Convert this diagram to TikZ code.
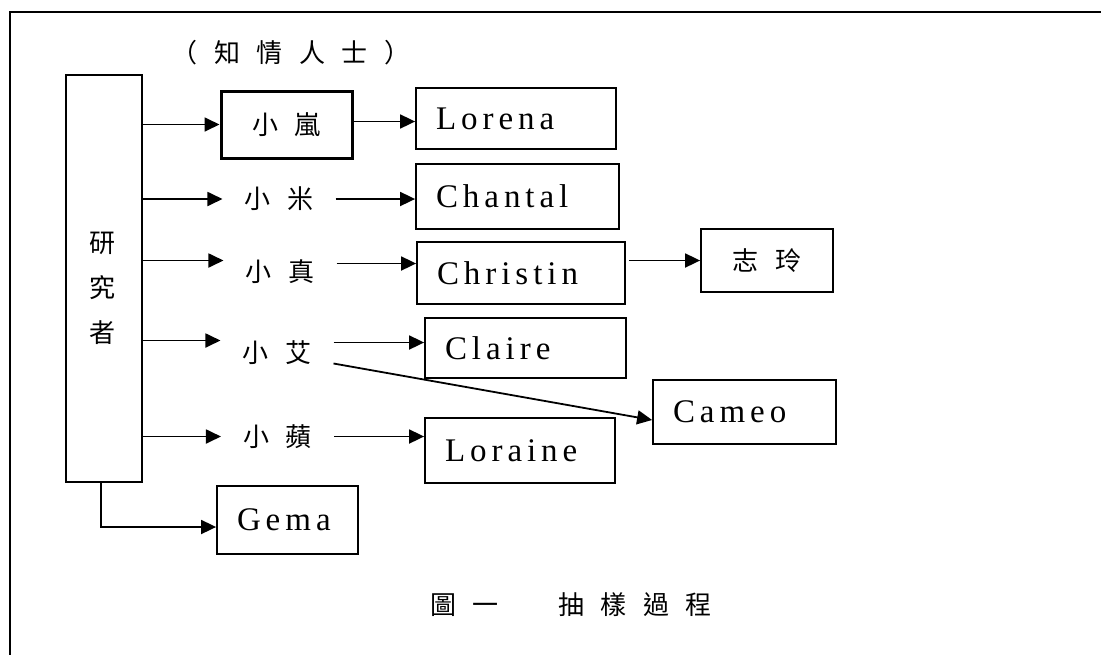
\documentclass[tikz,border=0pt]{standalone}
\usepackage{fontspec}
\setmainfont{Liberation Serif}
\newfontfamily\engfam[LetterSpace=15]{Liberation Serif}
\newfontfamily\zhfam[LetterSpace=64]{Noto Sans CJK TC}
\newcommand\engfont{\engfam\fontsize{33}{33}\selectfont}
\newcommand\zhfont{\zhfam\fontsize{26}{45}\selectfont}
\usetikzlibrary{arrows.meta}

\tikzset{
  box/.style={draw, line width=1.8pt, inner sep=0pt},
  namebox/.style={box, inner xsep=20pt, align=left, font=\engfont},
  zhbox/.style={box, font=\zhfont},
  zhtext/.style={font=\zhfont, inner xsep=22pt, inner ysep=0pt},
  arr/.style={line width=1.8pt, -{Triangle[length=15pt,width=14pt]}}
}

\begin{document}
\begin{tikzpicture}[x=1pt,y=-1pt]
\useasboundingbox (0,0) rectangle (1101,654);
% outer frame
\draw[line width=2.4pt] (10,660) -- (10,12) -- (1110,12);

\node[font=\zhfont] (note) at (291,53) {（知情人士）};

% researcher
\node[box, minimum width=76pt, minimum height=407pt] (res) at (104,278.5) {};
\node[font=\zhfont, align=center] (reslabel) at (102,288) {研\\究\\者};

% informants
\node[zhbox, line width=3pt, minimum width=131pt, minimum height=67pt] (lan) at (286.5,124.5) {小嵐};
\node[zhtext] (mi) at (279,199) {小米};
\node[zhtext] (zhen) at (280,271.5) {小真};
\node[zhtext] (ai) at (277,352.5) {小艾};
\node[zhtext] (ping) at (277.5,436.5) {小蘋};

% interviewees
\node[namebox, text width=160pt, minimum height=61pt] (lorena) at (516,118.5) {Lorena};
\node[namebox, text width=163pt, minimum height=65pt] (chantal) at (517.5,196.5) {Chantal};
\node[namebox, text width=168pt, minimum height=62pt] (christin) at (521,273) {Christin};
\node[namebox, text width=161pt, minimum height=60pt] (claire) at (525.5,348) {Claire};
\node[namebox, text width=143pt, minimum height=64pt] (cameo) at (744.5,412) {Cameo};
\node[namebox, text width=150pt, minimum height=65pt] (loraine) at (520,450.5) {Loraine};
\node[namebox, text width=101pt, minimum height=68pt] (gema) at (287.5,520) {Gema};
\node[zhbox, minimum width=132pt, minimum height=63pt] (zhiling) at (767,260.5) {志玲};

\node[font=\zhfont] (caption) at (571,605) {圖一　抽樣過程};

% researcher to informants
\coordinate (zhenin) at ([yshift=11pt]zhen.west);
\coordinate (aiin) at ([yshift=12pt]ai.west);
\draw[arr] (res.east |- lan.west) -- (lan.west);
\draw[arr] (res.east |- mi.west) -- (mi.west);
\draw[arr] (res.east |- zhenin) -- (zhenin);
\draw[arr] (res.east |- aiin) -- (aiin);
\draw[arr] (res.east |- ping.west) -- (ping.west);
\draw[arr] ([xshift=-3pt]res.south) |- ([yshift=-7pt]gema.west);

% informants to interviewees
\coordinate (zhenout) at ([yshift=8pt]zhen.east);
\coordinate (aiout) at ([yshift=10pt]ai.east);
\draw[arr] ([yshift=3pt]lan.east) -- ([yshift=3pt]lan.east -| lorena.west);
\draw[arr] (mi.east) -- (mi.east -| chantal.west);
\draw[arr] (zhenout) -- (zhenout -| christin.west);
\draw[arr] ([xshift=3pt]christin.east |- zhiling.west) -- (zhiling.west);
\draw[arr] (aiout) -- (aiout -| claire.west);
\draw[arr] ([yshift=-11pt]ai.east) -- ([yshift=-8pt]cameo.west);
\draw[arr] (ping.east) -- (ping.east -| loraine.west);
\end{tikzpicture}
\end{document}
